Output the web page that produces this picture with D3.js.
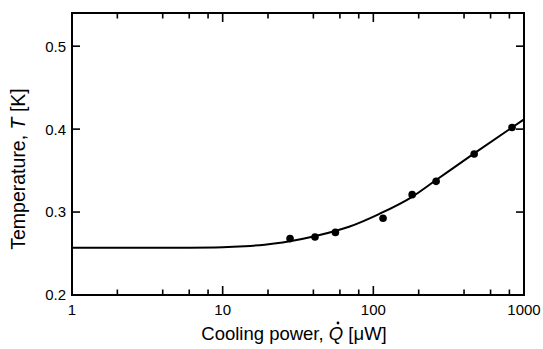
<!DOCTYPE html>
<html>
<head>
<meta charset="utf-8">
<script src="https://cdn.jsdelivr.net/npm/d3@7"></script>
<style>
  body { margin: 0; background: #fff; }
  svg { display: block; font-family: "Liberation Sans", Arial, sans-serif; }
</style>
</head>
<body>
<div id="chart"></div>
<script>
// measured points (cooling power in µW, temperature in K)
const measPower = [28, 41, 56, 116, 181, 261, 467, 833];
const measTemp = [0.268, 0.270, 0.2755, 0.2925, 0.321, 0.337, 0.370, 0.402];

// fitted curve
const fitPower = [1, 3, 6, 10, 14, 19, 25, 44, 69, 109, 181, 261, 467, 833, 1000];
const fitTemp = [0.257, 0.257, 0.2571, 0.2576, 0.2588, 0.2607, 0.2633, 0.2723, 0.2823, 0.2976, 0.3184, 0.3386, 0.3707, 0.402, 0.4117];

const powerTicks = [1, 10, 100, 1000];
const powerMinor = [2, 4, 6, 8, 20, 40, 60, 80, 200, 400, 600, 800];
const tempTicks = [0.2, 0.3, 0.4, 0.5];

const W = 543, H = 349;
const margin = { top: 13, right: 19, bottom: 54, left: 72 };
const width = W - margin.left - margin.right;
const height = H - margin.top - margin.bottom;

const svg = d3.select('#chart')
  .append('svg')
  .attr('width', W)
  .attr('height', H);

const g = svg.append('g')
  .attr('transform', `translate(${margin.left},${margin.top})`);

const x = d3.scaleLog().domain([1, 1000]).range([0, width]);
const y = d3.scaleLinear().domain([0.2, 0.54]).range([height, 0]);

// inward ticks on all four sides
function xTicks(values, len) {
  const sel = g.append('g').attr('stroke', '#000').attr('stroke-width', 1.6);
  sel.selectAll('line.b').data(values).enter().append('line')
    .attr('x1', d => x(d)).attr('x2', d => x(d))
    .attr('y1', height).attr('y2', height - len);
  sel.selectAll('line.t').data(values).enter().append('line')
    .attr('x1', d => x(d)).attr('x2', d => x(d))
    .attr('y1', 0).attr('y2', len);
}
xTicks(powerTicks.slice(1, 3), 9);
xTicks(powerMinor, 5.5);

const yTickG = g.append('g').attr('stroke', '#000').attr('stroke-width', 1.6);
yTickG.selectAll('line.l').data(tempTicks).enter().append('line')
  .attr('x1', 0).attr('x2', 8)
  .attr('y1', d => y(d)).attr('y2', d => y(d));
yTickG.selectAll('line.r').data(tempTicks).enter().append('line')
  .attr('x1', width).attr('x2', width - 8)
  .attr('y1', d => y(d)).attr('y2', d => y(d));

// frame
g.append('rect')
  .attr('width', width)
  .attr('height', height)
  .attr('fill', 'none')
  .attr('stroke', '#000')
  .attr('stroke-width', 2);

// tick labels
g.selectAll('text.xl')
  .data(powerTicks)
  .enter()
  .append('text')
  .attr('x', d => x(d))
  .attr('y', height + 20)
  .attr('text-anchor', 'middle')
  .attr('font-size', 15)
  .text(d => d);

g.selectAll('text.yl')
  .data(tempTicks)
  .enter()
  .append('text')
  .attr('x', -6)
  .attr('y', d => y(d))
  .attr('dy', '0.36em')
  .attr('text-anchor', 'end')
  .attr('font-size', 15)
  .text(d3.format('.1f'));

// fitted curve
const fit = fitPower.map((p, i) => ({ p, t: fitTemp[i] }));
const line = d3.line()
  .x(d => x(d.p))
  .y(d => y(d.t))
  .curve(d3.curveMonotoneX);

g.append('path')
  .datum(fit)
  .attr('fill', 'none')
  .attr('stroke', '#000')
  .attr('stroke-width', 2)
  .attr('d', line);

// measured points
const meas = measPower.map((p, i) => ({ p, t: measTemp[i] }));
g.selectAll('circle.pt')
  .data(meas)
  .enter()
  .append('circle')
  .attr('class', 'pt')
  .attr('cx', d => x(d.p))
  .attr('cy', d => y(d.t))
  .attr('r', 3.8)
  .attr('fill', '#000');

// axis titles
const xTitlePre = 'Cooling power, ';
const xt = svg.append('text')
  .attr('x', margin.left + width / 2 - 4)
  .attr('y', 340)
  .attr('text-anchor', 'middle')
  .attr('font-size', 18.5)
  .attr('fill', '#000');
xt.append('tspan').text(xTitlePre);
xt.append('tspan').attr('font-style', 'italic').text('Q');
xt.append('tspan').text(' [\u03bcW]');

// dot over Q
const qs = xt.node().getStartPositionOfChar(xTitlePre.length);
const qe = xt.node().getEndPositionOfChar(xTitlePre.length);
svg.append('circle')
  .attr('cx', (qs.x + qe.x) / 2 + 2)
  .attr('cy', 340 - 17)
  .attr('r', 1.4)
  .attr('fill', '#000');

const yt = svg.append('text')
  .attr('transform', `translate(25,${margin.top + 156}) rotate(-90)`)
  .attr('text-anchor', 'middle')
  .attr('font-size', 19.5)
  .attr('fill', '#000');
yt.append('tspan').text('Temperature, ');
yt.append('tspan').attr('font-style', 'italic').text('T');
yt.append('tspan').text(' [K]');
</script>
</body>
</html>
